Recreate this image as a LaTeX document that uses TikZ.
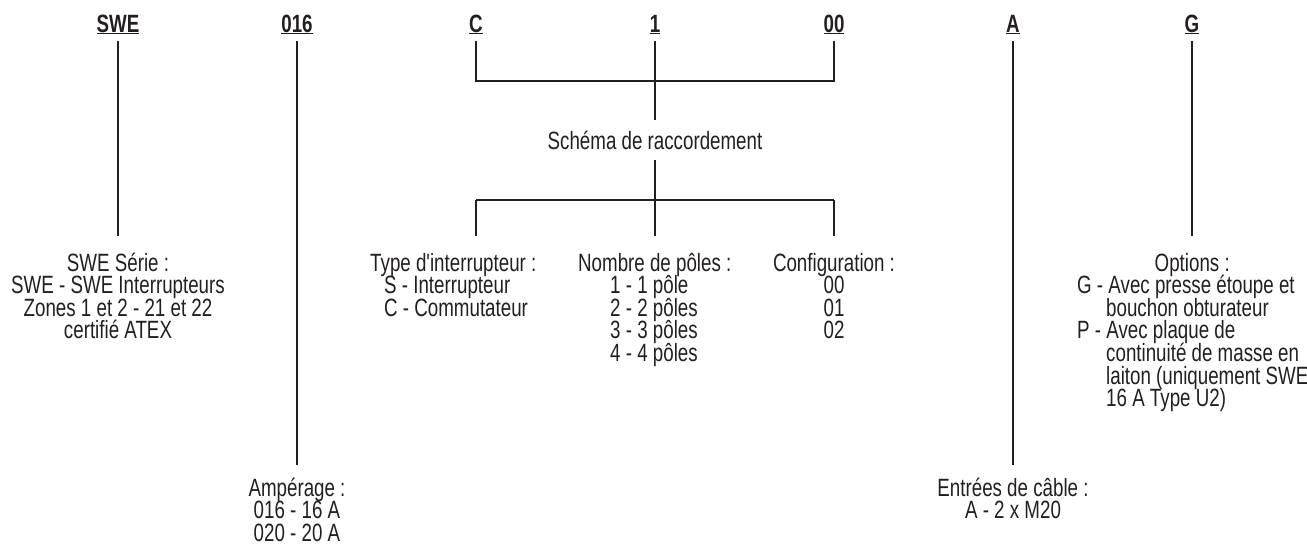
\documentclass[tikz,border=0pt]{standalone}
\usepackage{fontspec}
\setmainfont{Liberation Sans}[FakeStretch=0.75, Ligatures=TeXOff]
\usepackage{tikz}
\usetikzlibrary{positioning}
\definecolor{inkgray}{RGB}{35,31,32}
\newcommand{\codesize}{\fontsize{25}{22.6}\selectfont\lineskiplimit=-50pt\lineskip=0pt}
\newcommand{\tstrut}{\rule{0pt}{24pt}}
\tikzset{
  code head/.style={
    anchor=base,
    inner sep=0pt,
    outer ysep=7pt,
    font=\codesize\bfseries
  },
  code desc/.style={
    inner sep=0pt,
    outer ysep=11pt,
    align=center,
    font=\codesize
  },
  code line/.style={
    draw=inkgray,
    line width=1.1pt
  }
}

\begin{document}
\begin{tikzpicture}[x=1pt, y=-1pt, text=inkgray]
  \useasboundingbox (0,0) rectangle (1307,546);

  % Code letters
  \node[code head] (hSWE) at (118,32) {\underline{SWE}};
  \node[code head] (h016) at (297,32) {\underline{016}};
  \node[code head] (hC)   at (476,32) {\underline{C}};
  \node[code head] (h1)   at (655,32) {\underline{1}};
  \node[code head] (h00)  at (834,32) {\underline{00}};
  \node[code head] (hA)   at (1013,32) {\underline{A}};
  \node[code head] (hG)   at (1192,32) {\underline{G}};

  % Connection scheme
  \coordinate (join) at (655,81);
  \coordinate (fork) at (655,200);
  \node[font=\codesize, anchor=base, inner xsep=0pt, inner ysep=11pt,
        text height=18pt, text depth=0pt] (schema) at (655,149) {Schéma de raccordement};

  % Descriptions
  \node[code desc, anchor=north] (dSWE) at (118,236)
    {\tstrut SWE Série :\\ SWE - SWE Interrupteurs\\ Zones 1 et 2 - 21 et 22\\ certifié ATEX};
  \node[code desc, anchor=north west, align=left] (dType) at (370,236)
    {\tstrut Type d'interrupteur :\\ \hspace*{14pt}S - Interrupteur\\ \hspace*{14pt}C - Commutateur};
  \node[code desc, anchor=north west, align=left] (dPoles) at (578,236)
    {\tstrut Nombre de pôles :\\ \hspace*{32pt}1 - 1 pôle\\ \hspace*{32pt}2 - 2 pôles\\
     \hspace*{32pt}3 - 3 pôles\\ \hspace*{32pt}4 - 4 pôles};
  \node[code desc, anchor=north] (dConf) at (834,236)
    {\tstrut Configuration :\\ 00\\ 01\\ 02};
  \node[code desc, anchor=north west, align=left] (dOpt) at (1077,236)
    {\hspace*{77.5pt}\tstrut Options :\\ G - Avec presse étoupe et\\ \hspace*{29pt}bouchon obturateur\\
     P - Avec plaque de\\ \hspace*{29pt}continuité de masse en\\ \hspace*{29pt}laiton (uniquement SWE\\
     \hspace*{29pt}16 A Type U2)};
  \node[code desc, anchor=north, outer ysep=7pt] (dAmp) at (297,465)
    {\tstrut Ampérage :\\ 016 - 16 A\\ 020 - 20 A};
  \node[code desc, anchor=north, outer ysep=7pt] (dCable) at (1013,465)
    {\tstrut Entrées de câble :\\ A - 2 x M20};

  % Connectors
  \draw[code line] (hSWE) -- (dSWE);
  \draw[code line] (h016) -- (dAmp);
  \draw[code line] (hA) -- (dCable);
  \draw[code line] (hG.south) -- (hG.south |- dOpt.north);
  \draw[code line] (hC) |- (join) -| (h00);
  \draw[code line] (h1) -- (schema);
  \draw[code line] (schema) -- (fork);
  \draw[code line] (hC |- fork) -- (h00 |- fork);
  \draw[code line] (hC |- fork) -- (hC |- dType.north);
  \draw[code line] (fork) -- (h1 |- dPoles.north);
  \draw[code line] (h00 |- fork) -- (h00 |- dConf.north);
\end{tikzpicture}
\end{document}
